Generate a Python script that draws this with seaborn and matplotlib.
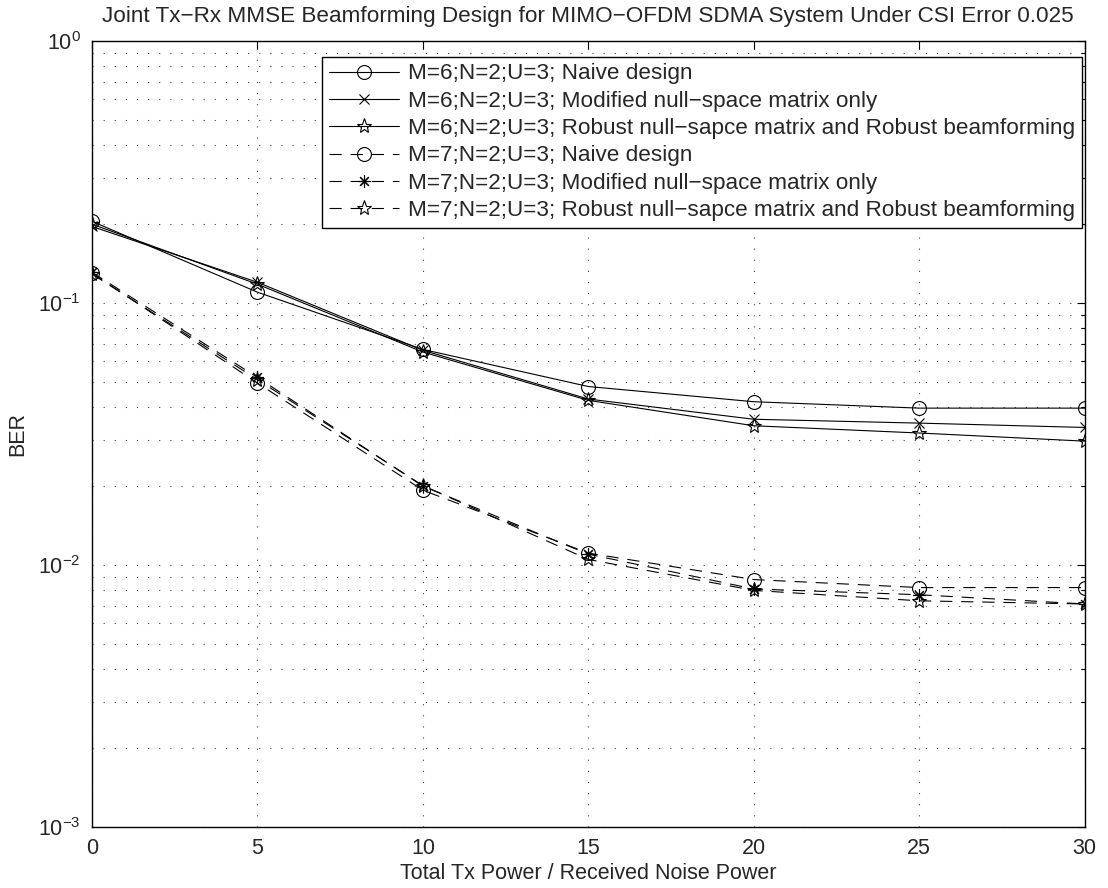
import matplotlib
matplotlib.use("Agg")
import matplotlib.pyplot as plt
import matplotlib.ticker as mticker
import numpy as np
import pandas as pd
import seaborn as sns

# SNR axis (total Tx power / received noise power)
snr = [0, 5, 10, 15, 20, 25, 30]

# BER curves, M=6 antennas
ber_m6_naive = [0.205, 0.110, 0.0665, 0.048, 0.042, 0.0397, 0.0397]
ber_m6_modified = [0.196, 0.120, 0.066, 0.043, 0.036, 0.0348, 0.0335]
ber_m6_robust = [0.200, 0.118, 0.065, 0.0425, 0.034, 0.0319, 0.0297]

# BER curves, M=7 antennas
ber_m7_naive = [0.130, 0.0495, 0.0193, 0.0111, 0.0088, 0.0082, 0.0082]
ber_m7_modified = [0.131, 0.052, 0.0200, 0.0110, 0.0081, 0.0077, 0.0071]
ber_m7_robust = [0.129, 0.051, 0.0201, 0.0105, 0.0080, 0.0073, 0.0071]

labels = [
    "M=6;N=2;U=3; Naive design",
    "M=6;N=2;U=3; Modified null\u2212space matrix only",
    "M=6;N=2;U=3; Robust null\u2212sapce matrix and Robust beamforming",
    "M=7;N=2;U=3; Naive design",
    "M=7;N=2;U=3; Modified null\u2212space matrix only",
    "M=7;N=2;U=3; Robust null\u2212sapce matrix and Robust beamforming",
]
series = [ber_m6_naive, ber_m6_modified, ber_m6_robust,
          ber_m7_naive, ber_m7_modified, ber_m7_robust]

sns.set_style("white")
plt.rcParams["font.family"] = ["Liberation Sans", "DejaVu Sans"]
plt.rcParams["mathtext.fontset"] = "custom"
plt.rcParams["mathtext.rm"] = "Liberation Sans"
plt.rcParams["mathtext.it"] = "Liberation Sans:italic"
plt.rcParams["mathtext.bf"] = "Liberation Sans:bold"

FS = 16.2

fig = plt.figure(figsize=(11.08, 8.88), dpi=100)
ax = fig.add_axes([0.083, 0.0687, 0.896, 0.8851])

solid = "-"
dashed = (0, (11, 8))
styles = [
    dict(marker="o", ms=10, linestyle=solid),
    dict(marker="x", ms=7, linestyle=solid),
    dict(marker="*", ms=11, linestyle=solid),
    dict(marker="o", ms=10, linestyle=dashed),
    dict(marker=(8, 2, 0), ms=9, linestyle=dashed),
    dict(marker="*", ms=11, linestyle=dashed),
]

for lab, vals, st in zip(labels, series, styles):
    df = pd.DataFrame({"snr": snr, "ber": vals})
    sns.lineplot(data=df, x="snr", y="ber", ax=ax, color="black",
                 linewidth=0.8, markerfacecolor="none",
                 markeredgecolor="black", markeredgewidth=0.8,
                 label=lab, **st)

ax.set_yscale("log")
ax.set_xlim(0, 30)
ax.set_ylim(1e-3, 1)
ax.set_xticks(snr)
ax.yaxis.set_major_locator(mticker.LogLocator(base=10, numticks=10))
ax.yaxis.set_minor_locator(mticker.LogLocator(base=10, subs=np.arange(2, 10), numticks=100))
ax.yaxis.set_minor_formatter(mticker.NullFormatter())

ax.grid(True, which="major", axis="both", color="0.25", linestyle=(0, (1, 9)), linewidth=0.8)
ax.grid(True, which="minor", axis="y", color="0.25", linestyle=(0, (1, 9)), linewidth=0.8)

ax.tick_params(which="both", direction="in", top=True, right=True, labelsize=15.5, color="black")
ax.tick_params(which="major", length=6, width=0.8, pad=8)
ax.tick_params(which="minor", length=3, width=0.8)
for sp in ax.spines.values():
    sp.set_visible(True)
    sp.set_color("black")
    sp.set_linewidth(1.0)

ax.set_xlabel("Total Tx Power / Received Noise Power", fontsize=15.5, labelpad=3)
ax.set_ylabel("BER", fontsize=15.5, labelpad=7)
ax.set_title("Joint Tx\u2212Rx MMSE Beamforming Design for MIMO\u2212OFDM SDMA System Under CSI Error 0.025",
             fontsize=FS, pad=14)

leg = ax.legend(loc="upper right", bbox_to_anchor=(0.997, 0.98), fontsize=FS,
                frameon=True, fancybox=False, edgecolor="black", framealpha=1,
                handlelength=3.1, handletextpad=0.4, labelspacing=0.28,
                borderpad=0.3, borderaxespad=0.0)
leg.get_frame().set_linewidth(1.0)

fig.savefig("out.png", dpi=100, facecolor="white")
